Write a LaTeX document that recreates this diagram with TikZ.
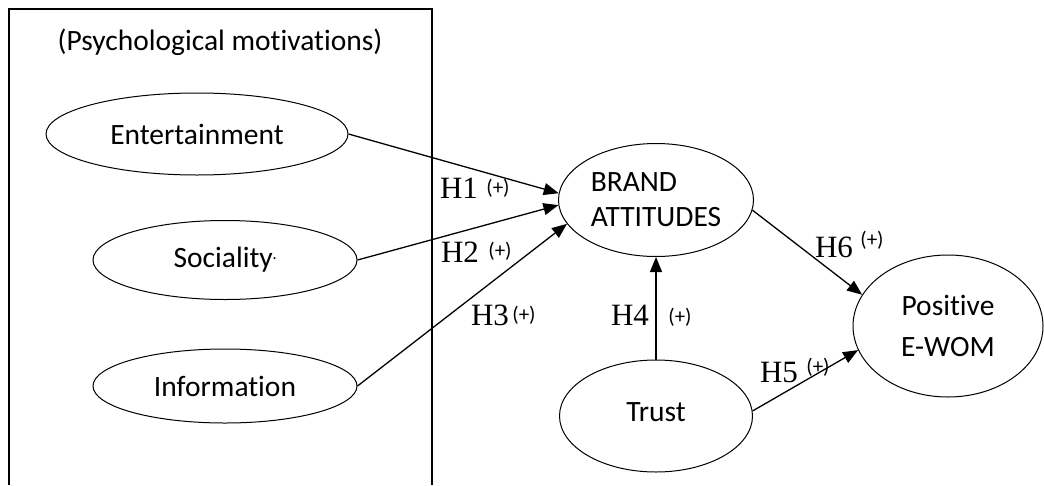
\documentclass[tikz,border=0pt]{standalone}
\usepackage{fontspec}
\setmainfont[Ligatures=NoCommon]{Carlito}
\newfontfamily\hypfont{Liberation Serif}
\usepackage{tikz}
\usetikzlibrary{shapes.geometric,arrows.meta}

\begin{document}
\begin{tikzpicture}[x=1pt, y=-1pt,
  construct/.style={ellipse, draw, line width=1pt, inner sep=0pt,
                    font=\fontsize{29.5}{35}\selectfont, align=center},
  hyp/.style={font=\hypfont\fontsize{31}{36}\selectfont, inner sep=0pt},
  sign/.style={font=\fontsize{21}{24}\selectfont, inner sep=0pt},
  arrow/.style={-{Triangle[length=15pt,width=12pt]}, line width=1.3pt}
]
\useasboundingbox (0,0) rectangle (1044,485);

% Frame: psychological motivations
\draw[line width=1.2pt] (9,485) -- (9,9) -- (432,9) -- (432,485);
\node[font=\fontsize{29.5}{35}\selectfont, inner sep=0pt] (psy) at (220,42) {(Psychological motivations)};

% Motivations
\node[construct, minimum width=302pt, minimum height=82pt] (ent) at (197,134) {Entertainment};
\node[construct, minimum width=264pt, minimum height=79pt] (soc) at (225,260) {Sociality\raisebox{5pt}{\fontsize{14}{14}\selectfont·}};
\node[construct, minimum width=264pt, minimum height=74pt] (info) at (225,386) {Information};

% Attitude and trust
\node[construct, minimum width=195pt, minimum height=113pt, align=left] (brand) at (656,200) {BRAND\\ATTITUDES};
\node[construct, minimum width=193pt, minimum height=112pt] (trust) at (656,416) {\raisebox{8pt}{Trust}};

% Outcome
\node[construct, minimum width=190pt, minimum height=142pt] (ewom) at (948,326) {Positive\\[6pt]E-WOM};

% Hypothesis labels
\node[hyp] (h1) at (459,188) {H1};
\node[sign] (s1) at (498,188) {(+)};
\node[hyp] (h2) at (460,252) {H2};
\node[sign] (s2) at (500,251) {(+)};
\node[hyp] (h3) at (490,315) {H3};
\node[sign] (s3) at (524,315) {(+)};
\node[hyp] (h4) at (630,315) {H4};
\node[sign] (s4) at (680,317) {(+)};
\node[hyp] (h5) at (779,372) {H5};
\node[sign] (s5) at (818,367) {(+)};
\node[hyp] (h6) at (834,247) {H6};
\node[sign] (s6) at (872,240) {(+)};

% Arrows
\draw[arrow] (ent.east) -- (brand.176);
\draw[arrow] (soc.east) -- (brand.183);
\draw[arrow] (info.east) -- (brand.195);
\draw[arrow] (trust) -- (brand);
\draw[arrow] (trust.3) -- (ewom.195);
\draw[arrow] (brand.-6) -- (ewom.160);

\end{tikzpicture}
\end{document}
